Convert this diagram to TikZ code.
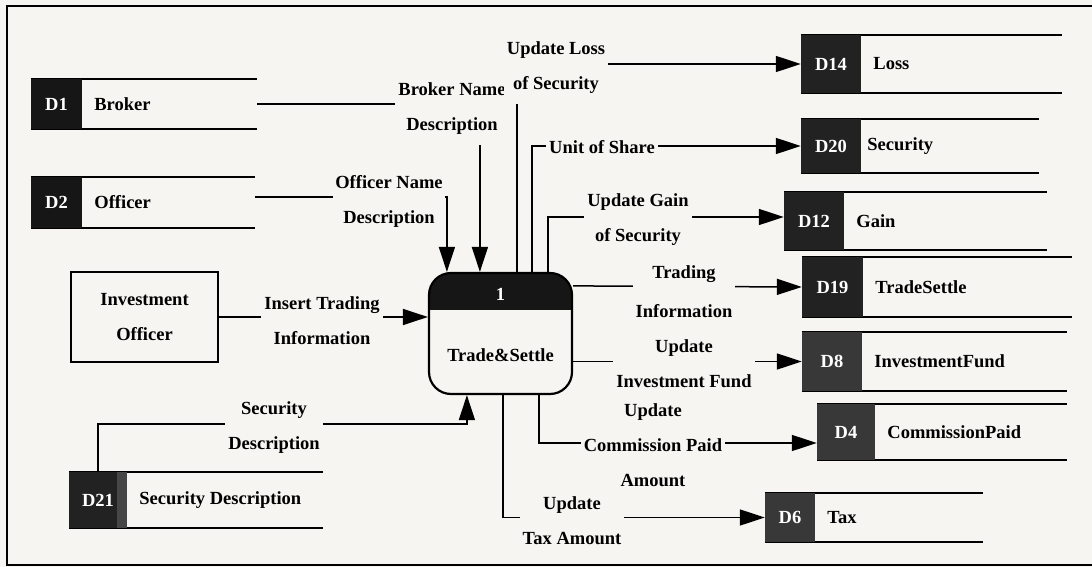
\documentclass[tikz,border=0pt]{standalone}
\usepackage{fontspec}
\setmainfont{Liberation Serif}
\usetikzlibrary{arrows.meta}
\definecolor{bg}{RGB}{246,245,242}
\definecolor{dkA}{RGB}{22,22,22}
\definecolor{dkB}{RGB}{34,34,34}
\definecolor{dkC}{RGB}{56,56,56}
\definecolor{dkS}{RGB}{70,70,70}
\newcommand\dstore[9]{%
  \node[store, minimum width=#4, minimum height=#5] (#1) at (#2,#3) {};
  \node[dbox, fill=#9, minimum width=#6, minimum height=#5, anchor=west] (#1id) at (#1.west) {#7};
  \node[sname] (#1nm) at ([xshift=12pt]#1id.east) {#8};
}
\begin{document}
\begin{tikzpicture}[x=1pt,y=-1pt,
  flow/.style={line width=1.5pt, -{Triangle[length=25pt,width=16pt]}},
  plain/.style={line width=1.5pt},
  sline/.style={line width=1.5pt},
  txt/.style={font=\bfseries\fontsize{18.5}{35}\selectfont},
  lab/.style={txt, align=center, fill=bg, inner xsep=3pt, inner ysep=4pt},
  store/.style={inner sep=0pt, append after command={(\tikzlastnode.north west) edge[sline] (\tikzlastnode.north east) (\tikzlastnode.south west) edge[sline] (\tikzlastnode.south east)}},
  dbox/.style={txt, text=white, inner sep=0pt},
  sname/.style={txt, anchor=west, inner sep=0pt}]
\useasboundingbox (0,0) rectangle (1092,567);
\fill[bg] (0,0) rectangle (1092,567);
\draw[line width=2pt] (1100,6) -- (7,6) -- (7,565) -- (1100,565);

% data stores
\dstore{d1}{144}{104}{226}{50}{51}{D1}{Broker}{dkA}
\dstore{d2}{143}{202.5}{224}{51}{51}{D2}{Officer}{dkA}
\dstore{d21}{196}{500}{254}{56}{58}{D21}{Security Description}{dkB}
\fill[dkS] ([xshift=-10pt]d21id.north east) rectangle (d21id.south east);
\dstore{d14}{931.5}{64}{261}{58}{60}{D14}{Loss}{dkB}
\dstore{d20}{920}{146}{238}{54}{60}{D20}{\hspace{-6pt}Security}{dkB}
\dstore{d12}{915.5}{221}{263}{58}{60}{D12}{Gain}{dkB}
\dstore{d19}{937}{287}{270}{60}{61}{D19}{TradeSettle}{dkB}
\dstore{d8}{934.5}{361.5}{265}{59}{60}{D8}{InvestmentFund}{dkC}
\dstore{d4}{942}{432}{250}{56}{58}{D4}{CommissionPaid}{dkC}
\dstore{d6}{874}{517.5}{218}{49}{50}{D6}{Tax}{dkC}

% external entity
\node[draw, line width=2.5pt, minimum width=147pt, minimum height=90pt, inner sep=0pt,
      txt, align=center] (io) at (144.5,317) {Investment\\Officer};

% process
\node[draw, line width=2.2pt, rounded corners=22pt, minimum width=143pt, minimum height=121pt,
      inner sep=0pt, fill=bg,
      path picture={\fill[dkA, sharp corners] ([yshift=2pt]path picture bounding box.north west) rectangle ([yshift=-37pt]path picture bounding box.north east);}]
      (P) at (500.5,333.5) {};
\node[txt, text=white, inner sep=0pt] (Pnum) at (500.5,294) {1};
\node[txt, inner sep=0pt] (Pname) at (500.5,355) {Trade\&Settle};

% flows
\draw[flow] (d1.east) -| ([xshift=52pt]P.north west);
\draw[flow] ([yshift=5.5pt]d2.east) -| ([xshift=19pt]P.north west);
\draw[flow] ([xshift=89pt]P.north west) |- (d14id.west);
\draw[flow] ([xshift=104pt]P.north west) |- (d20id.west);
\draw[flow] ([xshift=120pt]P.north west) |- ([yshift=4pt]d12id.west);
\draw[flow] ([yshift=-14pt]P.north east) -- (d19id.west);
\draw[flow] ([yshift=-28pt]P.east) -- (d8id.west);
\draw[flow] ([xshift=111pt]P.south west) |- ([yshift=-11pt]d4id.west);
\draw[flow] ([xshift=75pt]P.south west) |- (d6id.west);
\draw[flow] (io.east) -- (io.east -| P.west);
\draw[flow] (d21id.north) -- ++(0,-48) -| ([xshift=39pt]P.south west);

% flow labels
\node[lab, inner ysep=10pt] (lBroker) at (452,109) {Broker Name\\Description};
\node[lab, inner ysep=10pt] (lLoss) at (556,68) {Update Loss\\of Security};
\node[lab] (lUnit) at (602,147) {Unit of Share};
\node[lab, inner xsep=2pt] (lOfficer) at (389,201) {Officer Name\\Description};
\node[lab] (lGain) at (638,220) {Update Gain\\of Security};
\node[lab] (lTrade) at (684,292) {Trading\\[4pt]Information};
\node[lab] (lInvest) at (684,364) {Update\\Investment Fund};
\node[lab] (lTax) at (572,521) {Update\\Tax Amount};
\node[lab] (lComm) at (653,445) {Update\\Commission Paid\\Amount};
\node[lab] (lInsert) at (322,321) {Insert Trading\\Information};
\node[lab] (lSec) at (274,428) {Security\\Description};
\end{tikzpicture}
\end{document}
